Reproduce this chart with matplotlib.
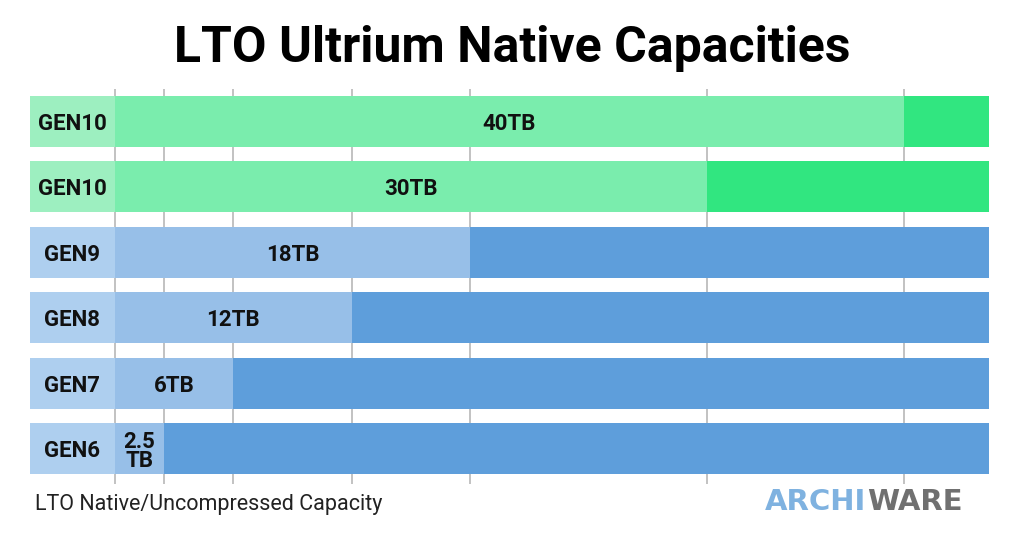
import matplotlib
matplotlib.use("Agg")
import matplotlib.pyplot as plt

# Data
generations = ["GEN10", "GEN10", "GEN9", "GEN8", "GEN7", "GEN6"]
capacities = [40, 30, 18, 12, 6, 2.5]  # TB native
value_labels = ["40TB", "30TB", "18TB", "12TB", "6TB", "2.5\nTB"]
palette = ["green", "green", "blue", "blue", "blue", "blue"]

# Layout (in TB units of the axis)
label_pad = 4.3
scale_max = 44.3

colors = {
    "green": {"box": "#9DEFC0", "light": "#7AEDAD", "dark": "#31E680"},
    "blue": {"box": "#AECFEF", "light": "#97BFE8", "dark": "#5E9EDB"},
}

font = "Roboto"

fig = plt.figure(figsize=(10.24, 5.46), dpi=100)
fig.patch.set_facecolor("white")

ax = fig.add_axes([30 / 1024, 62 / 546, 959 / 1024, 395 / 546])
ax.set_xlim(-label_pad, scale_max)
ax.set_ylim(5.54, -0.495)
ax.axis("off")

for c in [0] + capacities:
    ax.axvline(c, color="#BDBDBD", lw=1.3, zorder=0)

h = 0.777
for i, (gen, cap, lab, p) in enumerate(zip(generations, capacities, value_labels, palette)):
    col = colors[p]
    ax.barh(i, label_pad, left=-label_pad, height=h, color=col["box"], zorder=2)
    ax.barh(i, cap, left=0, height=h, color=col["light"], zorder=2)
    ax.barh(i, scale_max - cap, left=cap, height=h, color=col["dark"], zorder=2)
    ax.text(-label_pad / 2, i + 0.04, gen, ha="center", va="center", fontsize=16,
            fontweight="bold", family=font, color="#111111", zorder=3)
    ax.text(cap / 2, i + 0.04, lab, ha="center", va="center", fontsize=16,
            fontweight="bold", family=font, color="#111111", zorder=3,
            linespacing=0.85)

# overlay in pixel coords for title / footer
ov = fig.add_axes([0, 0, 1, 1], zorder=-1)
ov.set_xlim(0, 1024)
ov.set_ylim(546, 0)
ov.axis("off")

ov.text(512, 62, "LTO Ultrium Native Capacities", ha="center", va="baseline",
        fontsize=36, fontweight="bold", family=font, color="black")
ov.text(35, 510, "LTO Native/Uncompressed Capacity", ha="left", va="baseline",
        fontsize=15.5, family=font, color="#222222")
ov.text(866, 510, "ARCHI", ha="right", va="baseline", fontsize=21,
        fontweight="bold", family="DejaVu Sans", color="#7FB2E0")
ov.text(867, 510, "WARE", ha="left", va="baseline", fontsize=21,
        fontweight="bold", family="DejaVu Sans", color="#707070")

fig.savefig("out.png", dpi=100, facecolor="white")
